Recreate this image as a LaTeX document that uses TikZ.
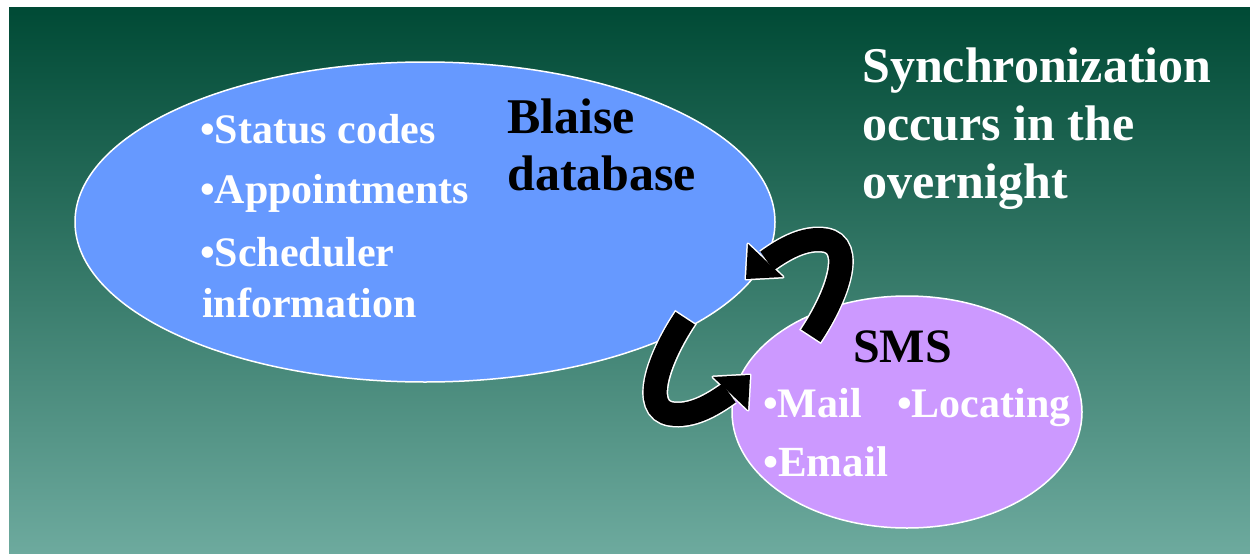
\documentclass[tikz,border=0pt]{standalone}
\usepackage{fontspec}
\setmainfont{Liberation Serif}
\definecolor{bgtop}{HTML}{004A35}
\definecolor{bgbot}{HTML}{6DAA9E}
\definecolor{blaiseblue}{HTML}{6699FF}
\definecolor{smspurple}{HTML}{CC99FF}
\tikzset{
  x=1pt, y=-1pt,
  txt/.style={anchor=base west, inner sep=0pt, font=\bfseries},
  wtxt/.style={txt, text=white},
  btxt/.style={txt, text=black},
  oval/.style={draw=white, line width=1.5pt},
  arrowoutline/.style={draw=white, line width=26pt},
  arrowbody/.style={draw=black, line width=23pt},
}
\begin{document}
\begin{tikzpicture}
\useasboundingbox (0,0) rectangle (1250,554);
\shade[top color=bgtop, bottom color=bgbot] (9,7) rectangle (1250,554);

% ellipses
\path[oval, fill=blaiseblue] (425,222) ellipse [x radius=350, y radius=160];
\path[oval, fill=smspurple] (907,412) ellipse [x radius=175, y radius=116];
\coordinate (blaise) at (425,222);
\coordinate (sms) at (907,412);

% arrow coordinates
\coordinate (uTail) at (810,337);
\coordinate (uBase) at (767,261);
\coordinate (uTip) at (746,279);
\coordinate (uB1) at (748,244);
\coordinate (uB2) at (783,277);
\coordinate (lTail) at (686,317);
\coordinate (lBase) at (729,393);
\coordinate (lTip) at (750,375);
\coordinate (lB1) at (748,410);
\coordinate (lB2) at (713,377);

% white outlines
\draw[arrowoutline] (uTail) .. controls (838,295) and (855,245) .. (825,240)
  .. controls (805,237) and (785,248) .. (uBase);
\filldraw[white, line width=3pt, line join=round] (uTip) -- (uB1) -- (uB2) -- cycle;
\draw[arrowoutline] (lTail) .. controls (658,359) and (641,409) .. (671,414)
  .. controls (691,417) and (711,406) .. (lBase);
\filldraw[white, line width=3pt, line join=round] (lTip) -- (lB1) -- (lB2) -- cycle;

% black bodies
\draw[arrowbody, shorten <=1.5pt] (uTail) .. controls (838,295) and (855,245) .. (825,240)
  .. controls (805,237) and (785,248) .. (uBase);
\fill[black] (uTip) -- (uB1) -- (uB2) -- cycle;
\draw[arrowbody, shorten <=1.5pt] (lTail) .. controls (658,359) and (641,409) .. (671,414)
  .. controls (691,417) and (711,406) .. (lBase);
\fill[black] (lTip) -- (lB1) -- (lB2) -- cycle;

% texts in Blaise ellipse
\node[wtxt, font=\bfseries\fontsize{42}{50}\selectfont] (t1) at (200,143) {•Status codes};
\node[wtxt, font=\bfseries\fontsize{42}{50}\selectfont] (t2) at (200,203) {•Appointments};
\node[wtxt, font=\bfseries\fontsize{42}{50}\selectfont] (t3) at (200,266) {•Scheduler};
\node[wtxt, font=\bfseries\fontsize{42}{50}\selectfont] (t4) at (202,317) {information};
\node[btxt, font=\bfseries\fontsize{50}{50}\selectfont] (b1) at (507,133) {Blaise};
\node[btxt, font=\bfseries\fontsize{50}{50}\selectfont] (b2) at (507,190) {database};

% synchronization text
\node[wtxt, font=\bfseries\fontsize{50}{58}\selectfont] (s1) at (862,82) {Synchronization};
\node[wtxt, font=\bfseries\fontsize{50}{58}\selectfont] (s2) at (862,140) {occurs in the};
\node[wtxt, font=\bfseries\fontsize{50}{58}\selectfont] (s3) at (862,198) {overnight};

% SMS ellipse texts
\node[btxt, font=\bfseries\fontsize{48}{50}\selectfont] (m0) at (853,362) {SMS};
\node[wtxt, font=\bfseries\fontsize{42}{50}\selectfont] (m1) at (763,417) {•Mail};
\node[wtxt, font=\bfseries\fontsize{42}{50}\selectfont] (m2) at (897,417) {•Locating};
\node[wtxt, font=\bfseries\fontsize{43}{50}\selectfont] (m3) at (763,476) {•Email};
\end{tikzpicture}
\end{document}
